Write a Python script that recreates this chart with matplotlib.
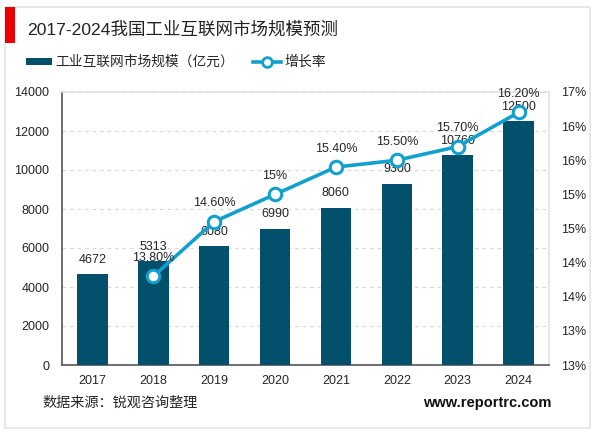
import matplotlib
matplotlib.use("Agg")
import matplotlib.pyplot as plt
from matplotlib.patches import Rectangle

plt.rcParams['font.family'] = ['Liberation Sans', 'Noto Sans CJK SC', 'DejaVu Sans']

years = ['2017', '2018', '2019', '2020', '2021', '2022', '2023', '2024']
market = [4672, 5313, 6080, 6990, 8060, 9300, 10760, 12500]
growth_years = ['2018', '2019', '2020', '2021', '2022', '2023', '2024']
growth = [13.8, 14.6, 15.0, 15.4, 15.5, 15.7, 16.2]
growth_labels = ['13.80%', '14.60%', '15%', '15.40%', '15.50%', '15.70%', '16.20%']
right_ticks = [12.5, 13, 13.5, 14, 14.5, 15, 15.5, 16, 16.5]
right_labels = ['13%', '13%', '14%', '14%', '15%', '15%', '16%', '16%', '17%']

W, H = 600, 433
bar_col = '#02506b'
line_col = '#12a0cf'
text_col = '#262626'

fig = plt.figure(figsize=(W / 100, H / 100), dpi=100)

# outer frame and red title block, kept behind the axes
fig.add_artist(Rectangle((5 / W, 1 - 428 / H), 585 / W, 421 / H, transform=fig.transFigure,
                         fc='white', ec='#e4e4e4', lw=1.2, zorder=-2))
fig.add_artist(Rectangle((5 / W, 1 - 43 / H), 10 / W, 36 / H, transform=fig.transFigure,
                         fc='#ee0000', ec='none', zorder=-1))

ax = fig.add_axes([62 / W, 1 - 365 / H, 487 / W, 273 / H])
ax.patch.set_alpha(0)
x = list(range(len(years)))
ax.bar(x, market, width=0.5, color=bar_col, zorder=3)
ax.set_xlim(-0.5, 7.5)
ax.set_ylim(0, 14000)
ax.set_yticks(range(0, 14001, 2000))
ax.set_xticks(x, years)
ax.tick_params(axis='both', length=0, labelsize=9, labelcolor=text_col)
ax.tick_params(axis='x', pad=7)
ax.tick_params(axis='y', pad=9)
ax.grid(axis='y', color='#d9d9d9', ls=(0, (3, 3)), lw=0.9, zorder=0)
ax.set_axisbelow(True)
for side in ['top', 'right']:
    ax.spines[side].set_color('#e2e2e2')
    ax.spines[side].set_linewidth(1.2)
for side in ['left', 'bottom']:
    ax.spines[side].set_color('#555555')
    ax.spines[side].set_linewidth(1.2)

for i, v in enumerate(market):
    ax.annotate(str(v), (i, v), xytext=(0, 6), textcoords='offset points',
                ha='center', va='bottom', fontsize=9, color=text_col, zorder=6)

ax2 = ax.twinx()
ax2.set_ylim(12.5, 16.5)
ax2.set_yticks(right_ticks, right_labels)
ax2.tick_params(axis='y', length=0, labelsize=9, labelcolor=text_col, pad=8.5)
for side in ax2.spines:
    ax2.spines[side].set_visible(False)
gx = [years.index(y) for y in growth_years]
ax2.plot(gx, growth, color=line_col, lw=2.6, marker='o', ms=9, mfc='white', mec=line_col, mew=2.2, zorder=5)
for i, v, lab in zip(gx, growth, growth_labels):
    ax2.annotate(lab, (i, v), xytext=(0, 9), textcoords='offset points',
                 ha='center', va='bottom', fontsize=9, color=text_col, zorder=6)

# title, legend row, footer
fig.text(27 / W, 1 - 29 / H, '2017-2024我国工业互联网市场规模预测', fontsize=12.6, color='#222222', va='center')
fig.add_artist(Rectangle((26 / W, 1 - 65 / H), 26 / W, 7 / H, transform=fig.transFigure,
                         fc=bar_col, ec='none'))
fig.text(55 / W, 1 - 62 / H, '工业互联网市场规模（亿元）', fontsize=9.9, color=text_col, va='center')
fig.add_artist(plt.Line2D([253 / W, 281 / W], [1 - 62 / H] * 2, color=line_col, lw=2.6,
                          marker='none'))
fig.add_artist(plt.Line2D([267 / W], [1 - 62 / H], marker='o', ms=7, mfc='white', mec=line_col, mew=2))
fig.text(284 / W, 1 - 62 / H, '增长率', fontsize=10, color=text_col, va='center')
fig.text(42 / W, 1 - 403 / H, '数据来源：锐观咨询整理', fontsize=10.2, color=text_col, va='center')
fig.text(551 / W, 1 - 403 / H, 'www.reportrc.com', fontsize=10.5, fontweight='bold', color='#111111',
         va='center', ha='right')

fig.savefig('out.png', dpi=100)
